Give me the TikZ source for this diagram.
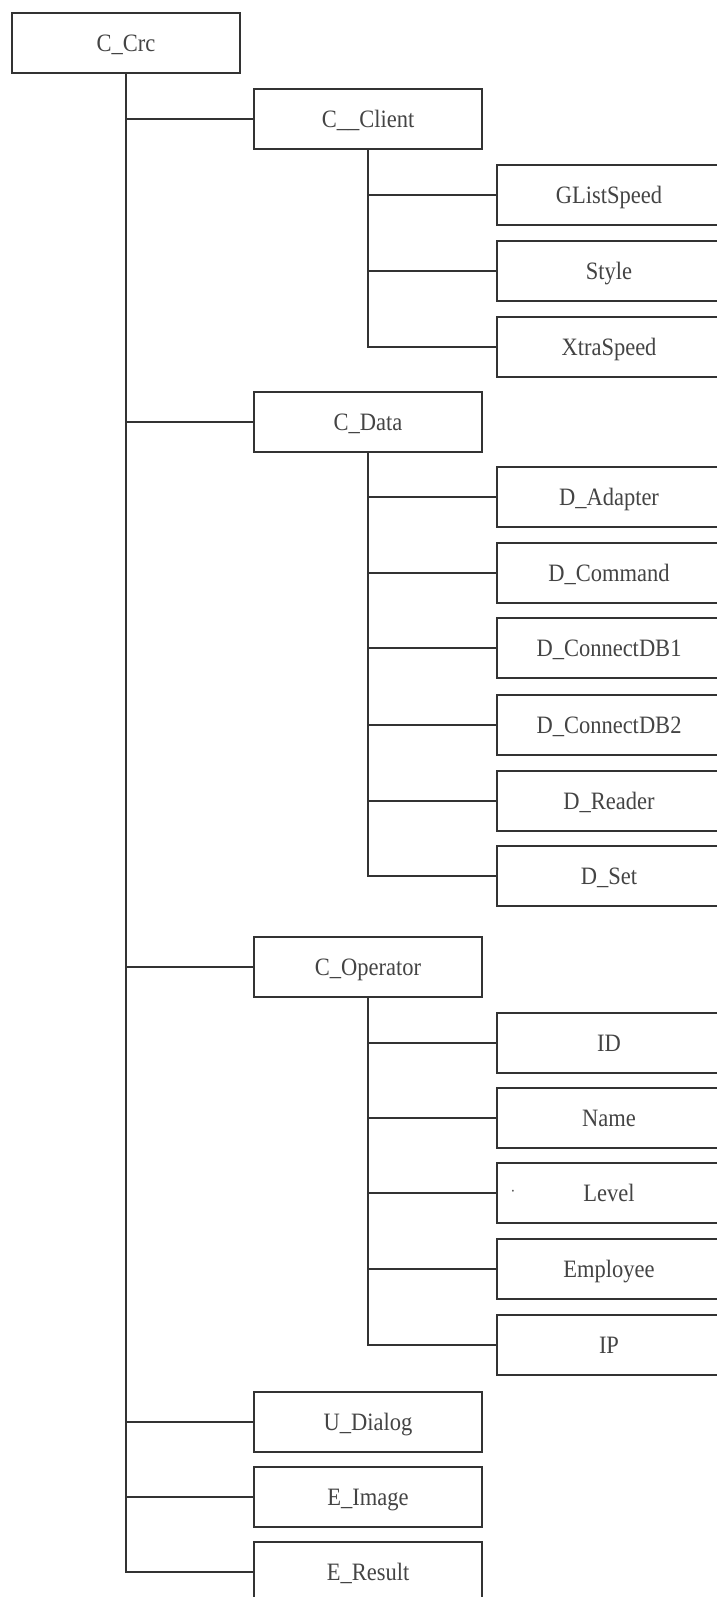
\documentclass[tikz,border=0pt]{standalone}
\usepackage{fontspec}
\setmainfont{Liberation Serif}[FakeStretch=0.9]
\definecolor{linec}{HTML}{333333}
\definecolor{textc}{HTML}{444444}
\tikzset{
  box/.style={draw=linec, line width=2pt, rectangle, minimum height=60pt, inner sep=0pt,
    text=textc, font=\fontsize{25}{25}\selectfont, text height=16.5pt, text depth=0pt},
  mainbox/.style={box, minimum width=228pt},
  leafbox/.style={box, minimum width=224pt},
  conn/.style={draw=linec, line width=2pt}
}
\begin{document}
\begin{tikzpicture}[x=1pt,y=-1pt]
\useasboundingbox[fill=white] (0,0) rectangle (716,1597);
% root
\node[mainbox] (crc) at (126,43) {C\_Crc};
% level 1
\node[mainbox] (client) at (368,119.5) {C\_\_Client};
\node[mainbox] (data) at (368,422) {C\_Data};
\node[mainbox] (oper) at (368,967) {C\_Operator};
\node[mainbox] (dialog) at (368,1422) {U\_Dialog};
\node[mainbox] (image) at (368,1497) {E\_Image};
\node[mainbox] (result) at (368,1572) {E\_Result};
% leaves of C__Client
\node[leafbox] (glist) at (609,195) {GListSpeed};
\node[leafbox] (style) at (609,271) {Style};
\node[leafbox] (xtra) at (609,347) {XtraSpeed};
% leaves of C_Data
\node[leafbox] (adapter) at (609,497) {D\_Adapter};
\node[leafbox] (command) at (609,573) {D\_Command};
\node[leafbox] (db1) at (609,648) {D\_ConnectDB1};
\node[leafbox] (db2) at (609,725) {D\_ConnectDB2};
\node[leafbox] (reader) at (609,801) {D\_Reader};
\node[leafbox] (dset) at (609,876) {D\_Set};
% leaves of C_Operator
\node[leafbox] (id) at (609,1043) {ID};
\node[leafbox] (name) at (609,1118) {Name};
\node[leafbox] (level) at (609,1193) {Level};
\node[leafbox] (employee) at (609,1269) {Employee};
\node[leafbox] (ip) at (609,1345) {IP};
\node[text=textc, inner sep=0pt, font=\fontsize{16}{16}\selectfont] (dot) at (513,1193) {·};
% trunks
\draw[conn] (crc.south) -- (crc.south |- result.west) -- (result.west);
\foreach \n in {client,data,oper,dialog,image}
  \draw[conn] (crc.south |- \n.west) -- (\n.west);
\draw[conn] (client.south) -- (client.south |- xtra.west) -- (xtra.west);
\foreach \n in {glist,style}
  \draw[conn] (client.south |- \n.west) -- (\n.west);
\draw[conn] (data.south) -- (data.south |- dset.west) -- (dset.west);
\foreach \n in {adapter,command,db1,db2,reader}
  \draw[conn] (data.south |- \n.west) -- (\n.west);
\draw[conn] (oper.south) -- (oper.south |- ip.west) -- (ip.west);
\foreach \n in {id,name,level,employee}
  \draw[conn] (oper.south |- \n.west) -- (\n.west);
\end{tikzpicture}
\end{document}
